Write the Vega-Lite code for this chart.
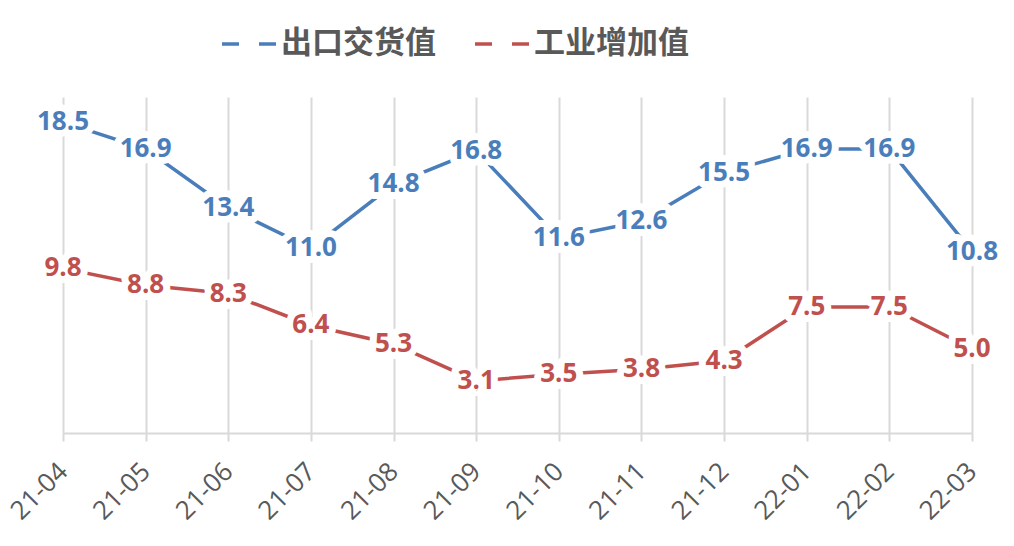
{
 "$schema": "https://vega.github.io/schema/vega-lite/v6.json",
 "width": 909, "height": 336,
 "autosize": {"type": "none"},
 "padding": {"left": 63, "top": 97, "right": 42, "bottom": 113},
 "background": "white",
 "config": {"view": {"stroke": null}},
 "data": {"values": [
  {"month": "21-04", "series": "出口交货值", "value": 18.5},
  {"month": "21-05", "series": "出口交货值", "value": 16.9},
  {"month": "21-06", "series": "出口交货值", "value": 13.4},
  {"month": "21-07", "series": "出口交货值", "value": 11.0},
  {"month": "21-08", "series": "出口交货值", "value": 14.8},
  {"month": "21-09", "series": "出口交货值", "value": 16.8},
  {"month": "21-10", "series": "出口交货值", "value": 11.6},
  {"month": "21-11", "series": "出口交货值", "value": 12.6},
  {"month": "21-12", "series": "出口交货值", "value": 15.5},
  {"month": "22-01", "series": "出口交货值", "value": 16.9},
  {"month": "22-02", "series": "出口交货值", "value": 16.9},
  {"month": "22-03", "series": "出口交货值", "value": 10.8},
  {"month": "21-04", "series": "工业增加值", "value": 9.8},
  {"month": "21-05", "series": "工业增加值", "value": 8.8},
  {"month": "21-06", "series": "工业增加值", "value": 8.3},
  {"month": "21-07", "series": "工业增加值", "value": 6.4},
  {"month": "21-08", "series": "工业增加值", "value": 5.3},
  {"month": "21-09", "series": "工业增加值", "value": 3.1},
  {"month": "21-10", "series": "工业增加值", "value": 3.5},
  {"month": "21-11", "series": "工业增加值", "value": 3.8},
  {"month": "21-12", "series": "工业增加值", "value": 4.3},
  {"month": "22-01", "series": "工业增加值", "value": 7.5},
  {"month": "22-02", "series": "工业增加值", "value": 7.5},
  {"month": "22-03", "series": "工业增加值", "value": 5.0}
 ]},
 "encoding": {
  "x": {"field": "month", "type": "ordinal", "sort": null,
   "scale": {"type": "point", "padding": 0},
   "axis": {"title": null, "grid": true, "gridColor": "#d9d9d9", "gridWidth": 2,
    "domainColor": "#d9d9d9", "domainWidth": 2, "tickColor": "#d9d9d9", "tickWidth": 2, "tickSize": 8,
    "labelAngle": -45, "labelAlign": "right", "labelBaseline": "middle", "labelFont": "Open Sans",
    "labelFontSize": 26, "labelColor": "#595959", "labelPadding": 26}},
  "y": {"field": "value", "type": "quantitative", "scale": {"domain": [0, 20]}, "axis": null}
 },
 "layer": [
  {"mark": {"type": "line", "strokeWidth": 3.5},
   "encoding": {"color": {"field": "series", "type": "nominal",
    "scale": {"domain": ["出口交货值", "工业增加值"], "range": ["#4a7ebb", "#c0504d"]},
    "legend": {"orient": "none", "legendX": 157, "legendY": -82, "direction": "horizontal", "title": null,
     "symbolType": "stroke", "symbolSize": 2916, "symbolStrokeWidth": 3.5, "symbolDash": [17, 20],
     "labelFont": "Noto Sans CJK SC", "labelFontWeight": "bold", "labelFontSize": 31, "labelColor": "#595959",
     "labelOffset": 3, "columnPadding": 32, "padding": 0, "labelLimit": 400}}}},
  {"mark": {"type": "text", "font": "Open Sans", "fontWeight": "bold", "fontSize": 26,
    "fill": "white", "stroke": "white", "strokeWidth": 14, "strokeJoin": "round"},
   "encoding": {"text": {"field": "value", "type": "quantitative", "format": ".1f"}}},
  {"mark": {"type": "text", "font": "Open Sans", "fontWeight": "bold", "fontSize": 26},
   "encoding": {"text": {"field": "value", "type": "quantitative", "format": ".1f"},
    "fill": {"field": "series", "type": "nominal",
     "scale": {"domain": ["出口交货值", "工业增加值"], "range": ["#4a7ebb", "#c0504d"]}, "legend": null}}}
 ]
}
